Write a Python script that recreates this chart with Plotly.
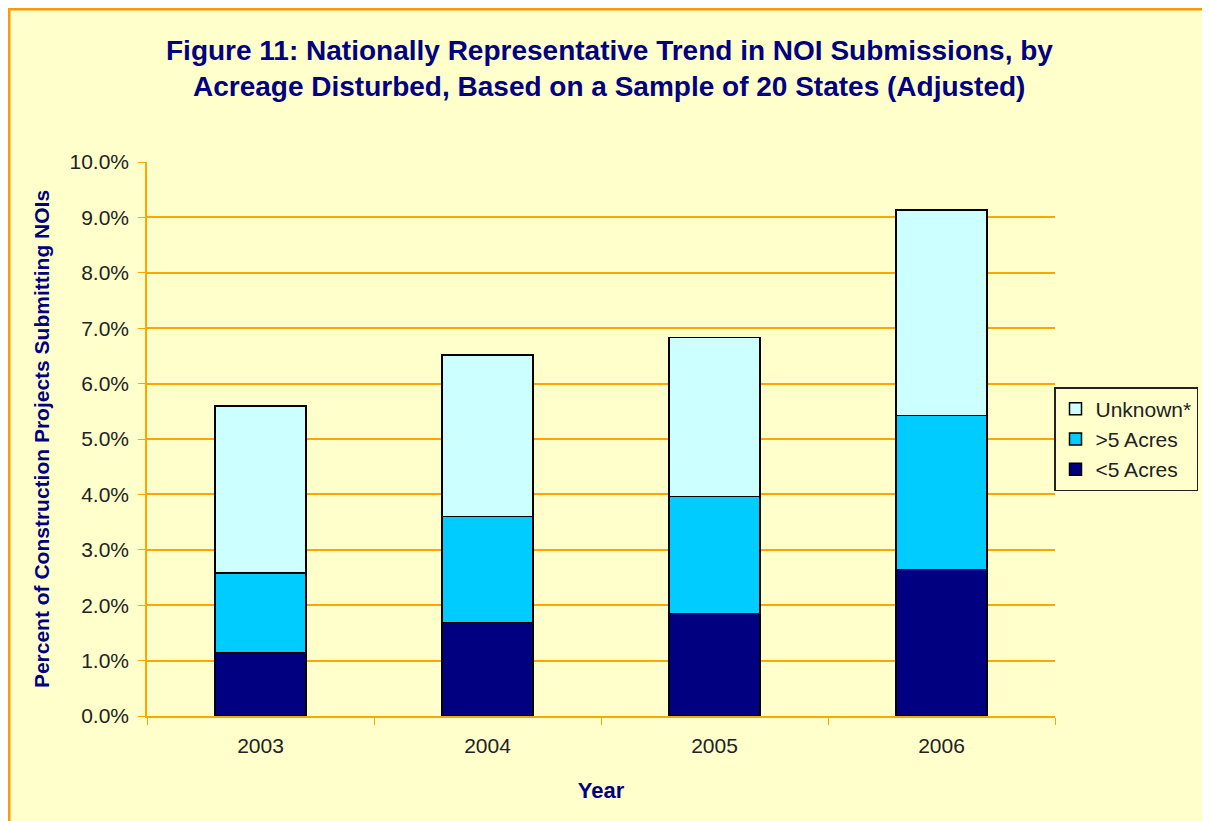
import plotly.graph_objects as go

years = ["2003", "2004", "2005", "2006"]
under5 = [1.15, 1.69, 1.85, 2.64]
over5 = [1.43, 1.91, 2.11, 2.78]
unknown = [3.02, 2.92, 2.87, 3.71]

NAVY = "#000080"
BG = "#FFFFCC"
ORANGE = "#FFA500"
FONT = "Liberation Sans, Arial, sans-serif"

# figure is drawn with an 8px page offset
L, T, PW, PH = 139, 154, 908, 554
W, H = 1202, 821

fig = go.Figure()
for name, vals, col in [("<5 Acres", under5, NAVY), (">5 Acres", over5, "#00CCFF"), ("Unknown*", unknown, "#CCFFFF")]:
    fig.add_trace(go.Bar(x=years, y=[v / 100 for v in vals], name=name,
                         marker=dict(color=col, line=dict(color="black", width=1.5)), width=0.4))

fig.update_layout(
    barmode="stack",
    width=W, height=H,
    paper_bgcolor=BG, plot_bgcolor=BG,
    margin=dict(l=L, r=W - L - PW, t=T, b=H - T - PH, autoexpand=False),
    font=dict(family=FONT, size=21, color="#222222"),
    showlegend=True,
    legend=dict(x=(1046 - L) / PW, y=(T + PH - 379) / PH, xanchor="left", yanchor="top", traceorder="reversed",
                bgcolor=BG, bordercolor="#222222", borderwidth=1.5, font=dict(size=21, color="#222222"),
                tracegroupgap=0),
)
fig.update_yaxes(range=[0, 0.1], tickformat=".1%", dtick=0.01, showgrid=True, gridcolor=ORANGE, gridwidth=1.5,
                 showline=True, linecolor=ORANGE, linewidth=1.5, ticks="outside", ticklen=7, tickcolor=ORANGE,
                 zeroline=False, ticklabelstandoff=5,
                 title=dict(text="<b>Percent of Construction Projects Submitting NOIs</b>", font=dict(size=21, color=NAVY), standoff=14))
fig.update_xaxes(showline=True, linecolor=ORANGE, linewidth=1.5, ticks="outside", ticklen=7, tickcolor=ORANGE,
                 tickson="boundaries", showgrid=False, ticklabelstandoff=10,
                 title=dict(text="<b>Year</b>", font=dict(size=22, color=NAVY), standoff=27))

fig.add_annotation(xref="paper", yref="paper", x=(601 - L) / PW, y=(T + PH - 42) / PH,
                   text="<b>Figure 11: Nationally Representative Trend in NOI Submissions, by</b>",
                   showarrow=False, font=dict(size=28, color=NAVY), xanchor="center", yanchor="middle")
fig.add_annotation(xref="paper", yref="paper", x=(601 - L) / PW, y=(T + PH - 78) / PH,
                   text="<b>Acreage Disturbed, Based on a Sample of 20 States (Adjusted)</b>",
                   showarrow=False, font=dict(size=28, color=NAVY), xanchor="center", yanchor="middle")

fig.add_shape(type="rect", xref="paper", yref="paper",
              x0=(1 - L) / PW, x1=(1200 - L) / PW, y0=(T + PH - (H + 20)) / PH, y1=(T + PH - 1) / PH,
              line=dict(color="#FF9900", width=3), fillcolor="rgba(0,0,0,0)", layer="below")

fig.write_html("out.html")
